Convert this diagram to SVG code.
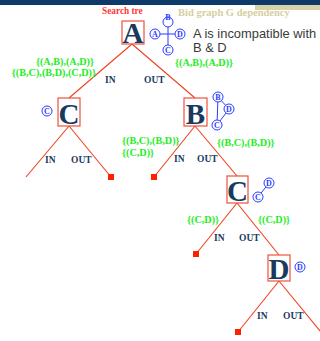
<svg xmlns="http://www.w3.org/2000/svg" width="320" height="341" viewBox="0 0 320 341">
<defs>
<style>
.box{fill:none;stroke:#f0503c;stroke-width:1.2}
.big{font-family:"Liberation Serif",serif;font-weight:bold;font-size:29px;fill:#173a5e;text-anchor:middle}
.edge{stroke:#f0401e;stroke-width:1.1;fill:none}
.leaf{fill:#ff2000}
.lab{font-family:"Liberation Serif",serif;font-weight:bold;font-size:9.5px;fill:#173a5e}
.grn{font-family:"Liberation Serif",serif;font-weight:bold;font-size:10.2px;fill:#22ee22}
.gc{fill:#fff;stroke:#2a3cff;stroke-width:1}
.gl{stroke:#2a3cff;stroke-width:1}
.gt{font-family:"Liberation Serif",serif;font-weight:bold;font-size:8px;fill:#2a3cff;text-anchor:middle}
</style>
</defs>
<rect x="0" y="0" width="320" height="5" fill="#0d3a68"/>
<rect x="255" y="5" width="65" height="5" fill="#d8d2a8"/>
<text x="102" y="14" font-family="Liberation Serif,serif" font-weight="bold" font-size="9.3" fill="#ff3838">Search tre</text>
<text x="178" y="16" font-family="Liberation Serif,serif" font-weight="bold" font-size="10.5" fill="#d6cfa0">Bid graph G dependency</text>
<text x="193" y="38" font-family="Liberation Sans,Arial,sans-serif" font-size="12.9" fill="#3a3a3a">A is incompatible with</text>
<text x="193" y="52" font-family="Liberation Sans,Arial,sans-serif" font-size="12.9" fill="#3a3a3a">B &amp; D</text>
<g id="connectors">
<line class="edge" x1="132" y1="44" x2="69" y2="98"/>
<line class="edge" x1="132" y1="44" x2="195" y2="98"/>
<line class="edge" x1="69" y1="126" x2="26" y2="177"/>
<line class="edge" x1="69" y1="126" x2="111" y2="177"/>
<line class="edge" x1="195" y1="126" x2="154" y2="177"/>
<line class="edge" x1="195" y1="126" x2="237" y2="176"/>
<line class="edge" x1="237" y1="203" x2="196" y2="254"/>
<line class="edge" x1="237" y1="203" x2="279" y2="255"/>
<line class="edge" x1="279" y1="281" x2="238" y2="332"/>
<line class="edge" x1="279" y1="281" x2="330" y2="343"/>
</g>
<g id="leaves">
<rect class="leaf" x="108" y="174" width="6" height="6"/>
<rect class="leaf" x="151" y="174" width="6" height="6"/>
<rect class="leaf" x="193" y="251" width="6" height="6"/>
<rect class="leaf" x="235" y="329" width="6" height="6"/>
</g>
<g id="nodeA">
<rect class="box" x="122" y="21" width="22" height="23"/>
<text class="big" x="133" y="43">A</text>
<line class="gl" x1="155" y1="34" x2="180" y2="34"/>
<line class="gl" x1="168" y1="22" x2="168" y2="50"/>
<circle class="gc" cx="155" cy="34" r="5"/><text class="gt" x="155" y="37">A</text>
<circle class="gc" cx="168" cy="22" r="5"/><text class="gt" x="168" y="20">B</text>
<circle class="gc" cx="180" cy="34" r="5"/><text class="gt" x="180" y="37">D</text>
<circle class="gc" cx="168" cy="50" r="5"/><text class="gt" x="168" y="53">C</text>
<text class="grn" x="94" y="64.5" text-anchor="end">{(A,B),(A,D)}</text>
<text class="grn" x="96" y="75.5" text-anchor="end">{(B,C),(B,D),(C,D)}</text>
<text class="grn" x="175" y="66">{(A,B),(A,D)}</text>
<text class="lab" x="105" y="83">IN</text>
<text class="lab" x="144" y="83">OUT</text>
</g>
<g id="nodeC1">
<rect class="box" x="58" y="98" width="22" height="28"/>
<text class="big" x="69" y="124">C</text>
<circle class="gc" cx="47" cy="111" r="5"/><text class="gt" x="47" y="114">C</text>
<text class="lab" x="45" y="163">IN</text>
<text class="lab" x="71" y="163">OUT</text>
</g>
<g id="nodeB">
<rect class="box" x="184" y="98" width="23" height="28"/>
<text class="big" x="195.5" y="124">B</text>
<line class="gl" x1="218" y1="97" x2="217" y2="125"/>
<line class="gl" x1="218" y1="97" x2="229" y2="109"/>
<line class="gl" x1="229" y1="109" x2="217" y2="125"/>
<circle class="gc" cx="218" cy="97" r="5"/><text class="gt" x="218" y="100">B</text>
<circle class="gc" cx="229" cy="109" r="5"/><text class="gt" x="229" y="112">D</text>
<circle class="gc" cx="217" cy="125" r="5"/><text class="gt" x="217" y="128">C</text>
<text class="grn" x="122" y="144">{(B,C),(B,D)}</text>
<text class="grn" x="122" y="156">{(C,D)}</text>
<text class="grn" x="217" y="146">{(B,C),(B,D)}</text>
<text class="lab" x="174" y="162">IN</text>
<text class="lab" x="197" y="162">OUT</text>
</g>
<g id="nodeC2">
<rect class="box" x="227" y="176" width="21" height="27"/>
<text class="big" x="237.5" y="201">C</text>
<line class="gl" x1="258" y1="197" x2="269" y2="183"/>
<circle class="gc" cx="258" cy="197" r="5"/><text class="gt" x="258" y="200">C</text>
<circle class="gc" cx="269" cy="183" r="5"/><text class="gt" x="269" y="186">D</text>
<text class="grn" x="187" y="223">{(C,D)}</text>
<text class="grn" x="258" y="223">{(C,D)}</text>
<text class="lab" x="214" y="241">IN</text>
<text class="lab" x="239" y="241">OUT</text>
</g>
<g id="nodeD">
<rect class="box" x="268" y="255" width="22" height="26"/>
<text class="big" x="279" y="279">D</text>
<circle class="gc" cx="300" cy="267" r="5"/><text class="gt" x="300" y="270">D</text>
<text class="lab" x="257" y="319">IN</text>
<text class="lab" x="283" y="319">OUT</text>
</g>
</svg>
